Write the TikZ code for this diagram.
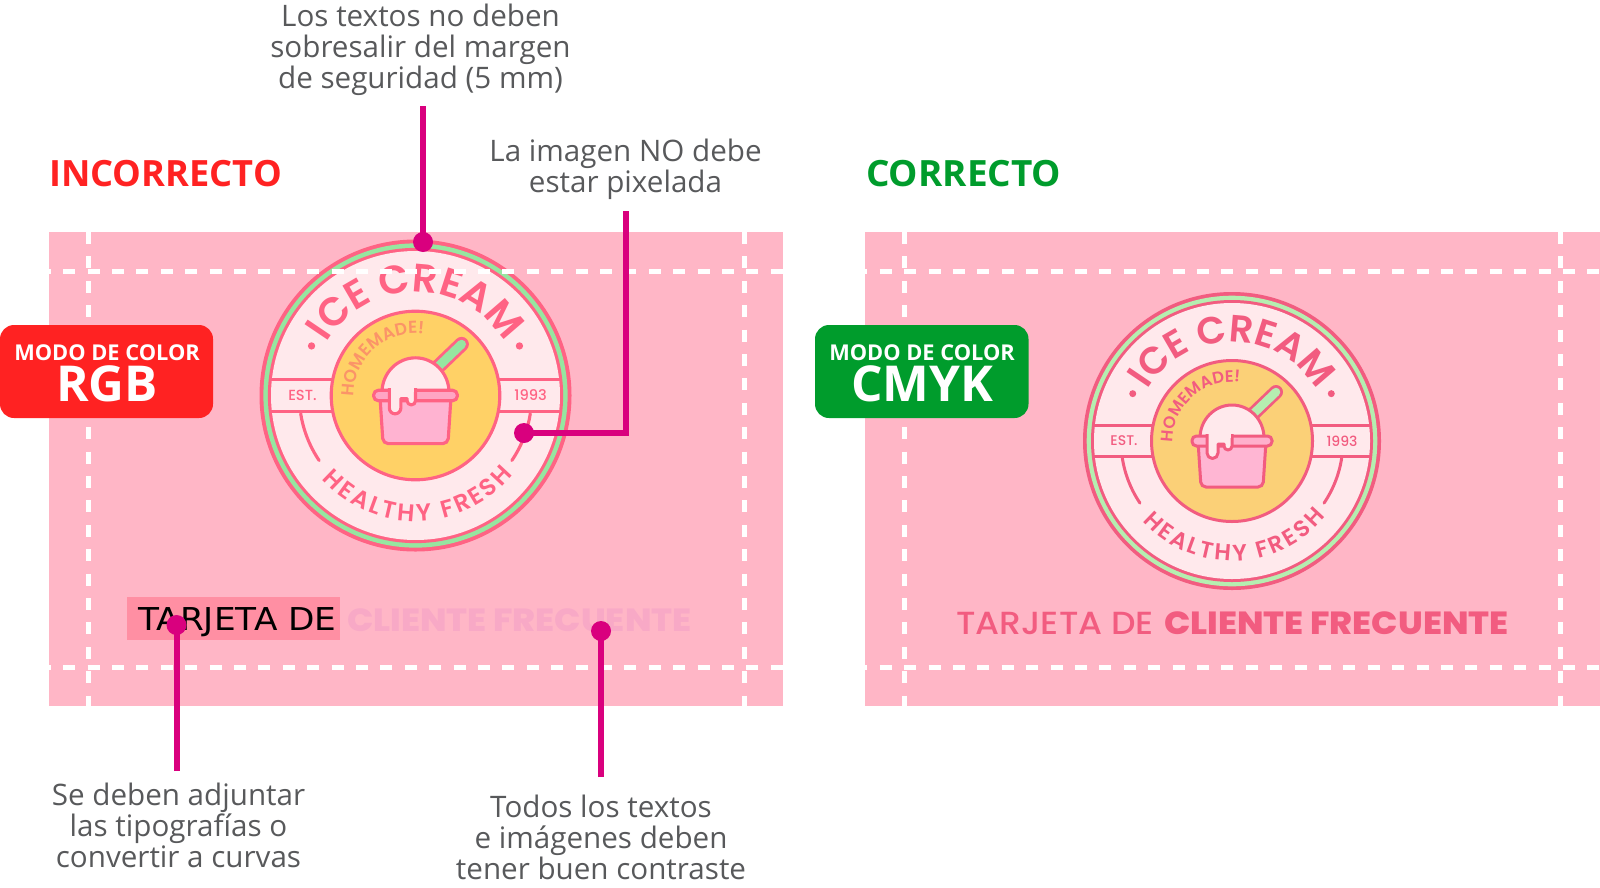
\documentclass[tikz,border=0pt]{standalone}
\usepackage{fontspec}
\usetikzlibrary{decorations.text}
\setmainfont{Open Sans}
\newfontfamily\logofont{Poppins}[UprightFont=* Medium]
\newfontfamily\logosemi{Poppins}[UprightFont=* SemiBold]
\newfontfamily\logobold{Poppins}[UprightFont=* ExtraBold]
\newfontfamily\wrongfont{DejaVu Sans}
\definecolor{cardpink}{HTML}{FFB6C6}
\definecolor{hl}{HTML}{FF8FA3}
\definecolor{greytxt}{HTML}{58595B}
\definecolor{callout}{HTML}{D9007E}
\definecolor{badred}{HTML}{FF2222}
\definecolor{goodgreen}{HTML}{009C2C}
\definecolor{fadetxt}{HTML}{F8A9C6}
\definecolor{goodtxt}{HTML}{F25C80}
\tikzset{
  card/.style={fill=cardpink,draw=none},
  safe/.style={draw=white,line width=5pt,dash pattern=on 12pt off 12.4pt},
  cline/.style={draw=callout,line width=6pt,line join=miter},
  cdot/.style={circle,fill=callout,inner sep=0pt,minimum size=20pt},
  note/.style={text=greytxt,align=center,font=\fontsize{29.6}{31}\selectfont,inner sep=0pt},
  bsmall/.style={text=white,font=\fontsize{21.8}{21.8}\selectfont\bfseries,inner sep=0pt},
  bbig/.style={text=white,font=\fontsize{49.5}{49.5}\selectfont\bfseries,inner sep=0pt},
  head/.style={font=\fontsize{36.2}{36.2}\selectfont\bfseries,inner sep=0pt,anchor=west},
}
% \icelogo{cx}{cy}{scale}
\newcommand{\icelogo}[3]{%
\pgfmathsetmacro{\fa}{38*#3}\pgfmathsetmacro{\fb}{23*#3}\pgfmathsetmacro{\fc}{16.5*#3}\pgfmathsetmacro{\fd}{14*#3}
\pgfmathsetmacro{\lw}{3*#3}
\begin{scope}[shift={(#1,-#2)},x=#3pt,y=#3pt,line width=\lw pt]
  \fill[lstroke] (0,0) circle[radius=149];
  \fill[lgreen] (0,0) circle[radius=145.3];
  \fill[lstroke] (0,0) circle[radius=141];
  \fill[lcream] (0,0) circle[radius=138];
  % band
  \draw[lstroke] (-139,15.5) -- (139,15.5) (-139,-15.5) -- (139,-15.5);
  % arcs below band
  \draw[lstroke,line cap=round] (189:111) arc[start angle=189,end angle=214,radius=111];
  \draw[lstroke,line cap=round] (-9:111) arc[start angle=-9,end angle=-34,radius=111];
  \fill[lstroke] (154.5:110) circle[radius=3.5] (25.5:110) circle[radius=3.5];
  % centre
  \draw[lstroke,fill=lyellow] (0,0) circle[radius=80.5];
  % spoon
  \draw[lstroke,line width=14*#3 pt,line cap=round] (20,26) -- (44,49);
  \draw[lgreen,line width=8.5*#3 pt,line cap=round] (20,26) -- (44,49);
  % cup
  \draw[lstroke,fill=lcup,rounded corners=5*#3 pt] (-34,0) -- (-31,-46) -- (31,-46) -- (34,0) -- cycle;
  % dome
  \draw[lstroke,fill=lcream] (-32,3) arc[start angle=180,end angle=0,x radius=32,y radius=33] -- cycle;
  % rim
  \draw[lstroke,fill=lrim,rounded corners=4.5*#3 pt] (-40,-5) rectangle (40,5);
  % drips
  \draw[lstroke,fill=lcream,line join=round] (-25,7) -- (-25,-12) arc[start angle=180,end angle=360,radius=5.5] -- (-14,-3) -- (-8,-3) -- (-8,-5) arc[start angle=180,end angle=360,radius=4] -- (0,7);
  \fill[lcream] (-23.5,8.5) rectangle (-1.5,3);
  % labels
  \node[text=lstroke,inner sep=0pt,font=\logofont\fontsize{\fd}{\fd}\selectfont] (est#1) at (-108,0) {EST.};
  \node[text=lstroke,inner sep=0pt,font=\logofont\fontsize{\fd}{\fd}\selectfont] (yr#1) at (110,0) {1993};
  \path[decorate,decoration={text along path,text align={fit to path},text={|\logosemi\fontsize{\fa}{\fa}\selectfont\color{lstroke}|ICE CREAM}}]
    (149:99) arc[start angle=149,end angle=39,radius=99];
  \path[decorate,decoration={text along path,text align={fit to path},text={|\logosemi\fontsize{\fb}{\fb}\selectfont\color{lstroke}|HEALTHY FRESH}}]
    (222:120) arc[start angle=222,end angle=321,radius=120];
  \path[decorate,decoration={text along path,text align={fit to path},text={|\logosemi\fontsize{\fc}{\fc}\selectfont\color{lhome}|HOMEMADE!}}]
    (181:59) arc[start angle=181,end angle=85,radius=59];
\end{scope}}
\begin{document}
\begin{tikzpicture}[x=1pt,y=1pt]
\useasboundingbox (0,0) rectangle (1600,-887);
% cards
\fill[card] (48.5,-232) rectangle (783,-706);
\fill[card] (865,-232) rectangle (1600,-706);
% left logo
\definecolor{lstroke}{HTML}{FF6384}
\definecolor{lgreen}{HTML}{96E6A0}
\definecolor{lcream}{HTML}{FFE9EC}
\definecolor{lyellow}{HTML}{FFD166}
\definecolor{lcup}{HTML}{FFB3D1}
\definecolor{lrim}{HTML}{FFA5C4}
\definecolor{lhome}{HTML}{FB9468}
\icelogo{415.5}{395.5}{1.047}
% right logo
\definecolor{lstroke}{HTML}{F25C80}
\definecolor{lgreen}{HTML}{B5EEB0}
\definecolor{lcream}{HTML}{FFE9EC}
\definecolor{lyellow}{HTML}{FBD077}
\definecolor{lcup}{HTML}{FFB6D3}
\definecolor{lrim}{HTML}{FFB0CC}
\definecolor{lhome}{HTML}{F25C80}
\icelogo{1232}{441}{1}
% left card text
\fill[hl] (126.5,-597) rectangle (340,-640);
\node[inner sep=0pt,anchor=base west,xscale=1.09,font=\wrongfont\fontsize{31.5}{31.5}\selectfont] (t1) at (138,-630) {TARJETA DE};
\node[inner sep=0pt,anchor=base west,xscale=1.085,text=fadetxt,font=\logobold\fontsize{32}{32}\selectfont] (t2) at (347,-631) {CLIENTE FRECUENTE};
% right card text
\node[inner sep=0pt,anchor=base west,text=goodtxt,xscale=1.078,font=\logofont\fontsize{32}{32}\selectfont] (t3) at (956,-634) {TARJETA DE};
\node[inner sep=0pt,anchor=base west,xscale=1.085,text=goodtxt,font=\logobold\fontsize{32}{32}\selectfont] (t4) at (1164,-634) {CLIENTE FRECUENTE};
% safety margins
\draw[safe,dash phase=9.7pt] (48.5,-271) -- (783,-271);
\draw[safe,dash phase=9.7pt] (48.5,-667) -- (783,-667);
\draw[safe] (88,-232) -- (88,-706);
\draw[safe] (744,-232) -- (744,-706);
\draw[safe,dash phase=9.7pt] (865,-271) -- (1600,-271);
\draw[safe,dash phase=9.7pt] (865,-667) -- (1600,-667);
\draw[safe] (904,-232) -- (904,-706);
\draw[safe] (1560,-232) -- (1560,-706);
% headings
\node[head,text=badred] (h1) at (49,-173.5) {INCORRECTO};
\node[head,text=goodgreen,xscale=1.02] (h2) at (866,-173.5) {CORRECTO};
% badges
\fill[badred,rounded corners=14pt] (0,-325) rectangle (213,-418);
\node[bsmall] (b1) at (107,-353) {MODO DE COLOR};
\node[bbig] (b2) at (107,-384) {RGB};
\fill[goodgreen,rounded corners=14pt] (815,-325) rectangle (1028.5,-418);
\node[bsmall] (b3) at (922,-353) {MODO DE COLOR};
\node[bbig] (b4) at (922,-384) {CMYK};
% notes
\node[note] (n1) at (420.5,-49.5) {Los textos no deben\\sobresalir del margen\\de seguridad (5 mm)};
\node[note] (n2) at (625.5,-169) {La imagen NO debe\\estar pixelada};
\node[note] (n3) at (178.5,-825.5) {Se deben adjuntar\\las tipografías o\\convertir a curvas};
\node[note] (n4) at (601,-837.5) {Todos los textos\\e imágenes deben\\tener buen contraste};
% callouts
\node[cdot] (d1) at (423,-242) {};
\node[cdot] (d2) at (524,-433) {};
\node[cdot] (d3) at (176.5,-625) {};
\node[cdot] (d4) at (601,-631) {};
\coordinate (e1) at (423,-106);
\coordinate (e2) at (625.5,-211);
\coordinate (e3) at (176.5,-771);
\coordinate (e4) at (601,-777);
\draw[cline] (e1) -- (d1.center);
\draw[cline] (d2.center) -| (e2);
\draw[cline] (e3) -- (d3.center);
\draw[cline] (e4) -- (d4.center);
\end{tikzpicture}
\end{document}
